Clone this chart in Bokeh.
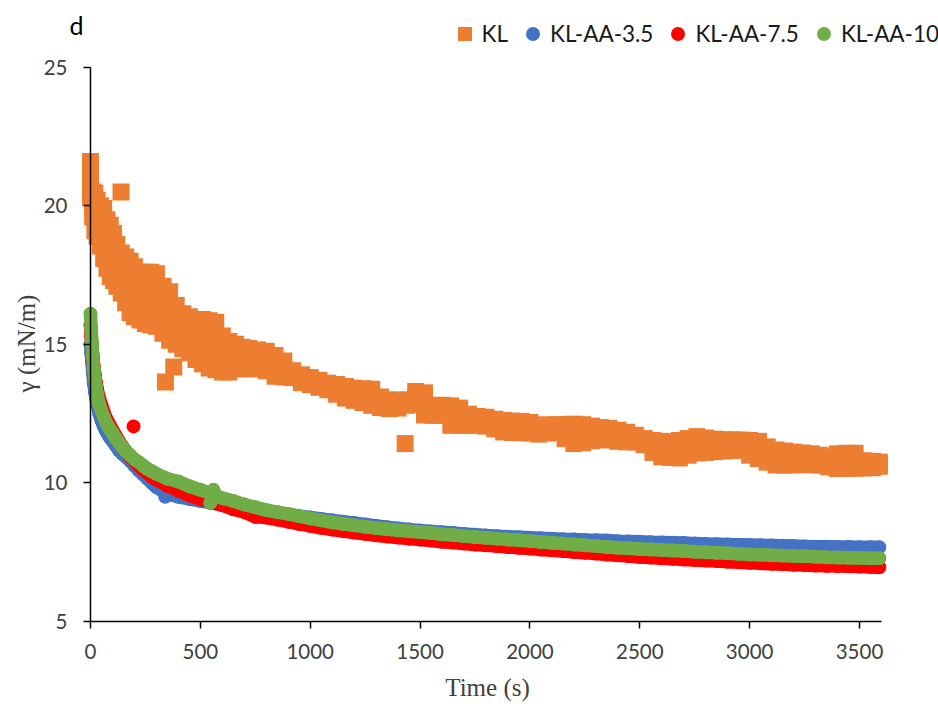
import math
from bokeh.plotting import figure
from bokeh.models import Range1d, FixedTicker, Legend, LegendItem, Label, ColumnDataSource
from bokeh.embed import file_html
from bokeh.resources import INLINE

# ---------------- data ----------------
x_ticks = [0, 500, 1000, 1500, 2000, 2500, 3000, 3500]
y_ticks = [5, 10, 15, 20, 25]
series_names = ["KL", "KL-AA-3.5", "KL-AA-7.5", "KL-AA-10"]

# KL (noisy band of squares): early part read at four levels across the band
kl_t_early = [0, 10, 20, 30, 45, 60, 75, 90, 105, 120, 140, 160, 180, 200, 225, 250,
              275, 300, 330, 360, 390, 420, 450, 480, 510, 540, 570, 600, 630, 660, 690]
kl_hi_early = [21.6, 20.5, 20.45, 20.2, 20.0, 19.9, 19.5, 19.3, 19.0, 18.6, 18.3, 18.15,
               18.0, 17.8, 17.6, 17.6, 17.6, 17.55, 17.1, 16.9, 16.4, 16.1, 16.0, 15.9,
               15.9, 15.85, 15.8, 15.3, 15.1, 15.0, 14.9]
kl_m1_early = [21.17, 20.2, 20.0, 19.77, 19.52, 19.3, 18.92, 18.68, 18.43, 18.1, 17.82,
               17.6, 17.38, 17.2, 17.03, 16.98, 16.97, 16.92, 16.53, 16.32, 15.93, 15.68,
               15.57, 15.42, 15.37, 15.28, 15.23, 14.87, 14.73, 14.71, 14.64]
kl_m2_early = [20.73, 19.9, 19.55, 19.33, 19.03, 18.7, 18.33, 18.07, 17.87, 17.6, 17.33,
               17.05, 16.77, 16.6, 16.45, 16.37, 16.33, 16.28, 15.97, 15.73, 15.47, 15.27,
               15.13, 14.93, 14.83, 14.72, 14.65, 14.43, 14.37, 14.41, 14.38]
kl_lo_early = [20.3, 19.6, 19.1, 18.9, 18.55, 18.1, 17.75, 17.45, 17.3, 17.1, 16.85, 16.5,
               16.15, 16.0, 15.88, 15.75, 15.7, 15.65, 15.4, 15.15, 15.0, 14.85, 14.7,
               14.45, 14.3, 14.15, 14.08, 14.0, 14.0, 14.12, 14.12]

# KL later part read at three levels across the band
kl_t_late = [720, 760, 800, 840, 880, 920, 960, 1000, 1040, 1080, 1120, 1160, 1200, 1240,
             1280, 1320, 1360, 1400, 1440, 1480, 1520, 1560, 1600, 1640, 1680, 1720, 1760,
             1800, 1840, 1880, 1920, 1960, 2000, 2040, 2080, 2120, 2160, 2200, 2240, 2280,
             2320, 2360, 2400, 2440, 2480, 2520, 2560, 2600, 2640, 2680, 2720, 2760, 2800,
             2840, 2880, 2920, 2960, 3000, 3040, 3080, 3120, 3160, 3200, 3240, 3280, 3320,
             3360, 3400, 3440, 3480, 3520, 3560, 3590]
kl_hi_late = [14.85, 14.8, 14.75, 14.6, 14.4, 14.05, 13.9, 13.8, 13.7, 13.6, 13.55, 13.48,
              13.42, 13.4, 13.38, 13.1, 13.0, 12.95, 13.0, 13.3, 13.25, 12.8, 12.8, 12.78,
              12.7, 12.48, 12.4, 12.37, 12.3, 12.25, 12.23, 12.22, 12.18, 12.09, 12.09,
              12.1, 12.11, 12.12, 12.1, 12.05, 12.0, 11.97, 11.9, 11.83, 11.72, 11.6, 11.53,
              11.5, 11.48, 11.53, 11.6, 11.67, 11.62, 11.58, 11.56, 11.55, 11.55, 11.53,
              11.5, 11.3, 11.19, 11.15, 11.11, 11.08, 11.05, 11.0, 10.93, 11.05, 11.07,
              11.07, 10.8, 10.78, 10.75]
kl_mid_late = [14.48, 14.46, 14.4, 14.22, 14.11, 13.92, 13.76, 13.68, 13.58, 13.48, 13.38,
               13.27, 13.2, 13.15, 13.09, 12.91, 12.84, 12.82, 12.9, 13.08, 12.85, 12.62,
               12.62, 12.43, 12.39, 12.28, 12.24, 12.21, 12.12, 12.04, 12.02, 12.01, 11.99,
               11.92, 11.94, 11.97, 11.85, 11.77, 11.77, 11.78, 11.79, 11.76, 11.7, 11.65,
               11.6, 11.49, 11.32, 11.22, 11.2, 11.21, 11.3, 11.37, 11.36, 11.35, 11.35,
               11.36, 11.36, 11.26, 11.19, 11.02, 10.92, 10.9, 10.88, 10.87, 10.85, 10.82,
               10.75, 10.78, 10.8, 10.8, 10.67, 10.66, 10.67]
kl_lo_late = [14.12, 14.12, 14.05, 13.85, 13.82, 13.8, 13.62, 13.55, 13.45, 13.36, 13.2,
              13.06, 12.98, 12.9, 12.8, 12.72, 12.68, 12.7, 12.8, 12.86, 12.45, 12.44, 12.44,
              12.08, 12.08, 12.08, 12.08, 12.05, 11.95, 11.84, 11.82, 11.81, 11.8, 11.76,
              11.8, 11.84, 11.6, 11.42, 11.45, 11.52, 11.58, 11.55, 11.5, 11.48, 11.48,
              11.38, 11.1, 10.94, 10.92, 10.9, 11.0, 11.08, 11.1, 11.13, 11.15, 11.17, 11.18,
              11.0, 10.88, 10.75, 10.65, 10.64, 10.65, 10.66, 10.66, 10.64, 10.58, 10.52,
              10.52, 10.53, 10.54, 10.55, 10.6]
# KL isolated points
kl_t_out = [139, 341, 379, 1432]
kl_g_out = [20.5, 13.64, 14.18, 11.42]

# KL-AA series (shared time axis)
t_aa = [0, 3, 6, 10, 15, 20, 25, 30, 40, 50, 60, 70, 80, 90, 100, 115, 130, 145, 160, 180,
        200, 220, 240, 260, 280, 300, 350, 400, 450, 500, 550, 600, 650, 700, 750, 800, 850,
        900, 950, 1000, 1050, 1100, 1150, 1200, 1250, 1300, 1350, 1400, 1450, 1500, 1550,
        1600, 1650, 1700, 1750, 1800, 1850, 1900, 1950, 2000, 2050, 2100, 2150, 2200, 2250,
        2300, 2350, 2400, 2450, 2500, 2550, 2600, 2650, 2700, 2750, 2800, 2850, 2900, 2950,
        3000, 3050, 3100, 3150, 3200, 3250, 3300, 3350, 3400, 3450, 3500, 3550, 3590]
g_aa35 = [15.0, 14.7, 14.4, 14.0, 13.6, 13.3, 13.05, 12.85, 12.5, 12.25, 12.05, 11.88,
          11.75, 11.62, 11.52, 11.35, 11.18, 11.05, 10.95, 10.8, 10.62, 10.45, 10.3, 10.15,
          10.0, 9.85, 9.6, 9.5, 9.42, 9.35, 9.28, 9.2, 9.12, 9.05, 9.0, 8.95, 8.9, 8.85, 8.8,
          8.75, 8.7, 8.65, 8.6, 8.55, 8.5, 8.45, 8.4, 8.36, 8.32, 8.28, 8.25, 8.22, 8.19,
          8.16, 8.13, 8.1, 8.08, 8.06, 8.04, 8.02, 8.0, 7.99, 7.97, 7.96, 7.94, 7.93, 7.92,
          7.9, 7.89, 7.88, 7.86, 7.85, 7.84, 7.83, 7.81, 7.8, 7.79, 7.78, 7.77, 7.76, 7.75,
          7.74, 7.73, 7.72, 7.71, 7.7, 7.7, 7.69, 7.69, 7.68, 7.68, 7.68]
g_aa75 = [15.7, 15.3, 14.95, 14.6, 14.2, 13.9, 13.6, 13.4, 13.05, 12.8, 12.55, 12.35, 12.2,
          12.05, 11.9, 11.7, 11.5, 11.32, 11.15, 10.95, 10.8, 10.62, 10.48, 10.35, 10.22,
          10.12, 9.9, 9.72, 9.55, 9.42, 9.3, 9.2, 9.05, 8.95, 8.78, 8.75, 8.68, 8.6, 8.52,
          8.45, 8.38, 8.32, 8.26, 8.21, 8.16, 8.11, 8.07, 8.03, 7.99, 7.96, 7.92, 7.88, 7.85,
          7.81, 7.78, 7.75, 7.72, 7.69, 7.66, 7.63, 7.6, 7.57, 7.54, 7.51, 7.48, 7.45, 7.42,
          7.39, 7.36, 7.33, 7.31, 7.28, 7.26, 7.24, 7.22, 7.2, 7.18, 7.16, 7.14, 7.12, 7.1,
          7.08, 7.07, 7.05, 7.04, 7.02, 7.01, 7.0, 6.99, 6.98, 6.97, 6.96]
g_aa10 = [16.1, 15.6, 15.1, 14.6, 14.1, 13.75, 13.45, 13.2, 12.85, 12.6, 12.4, 12.2, 12.05,
          11.92, 11.8, 11.62, 11.45, 11.3, 11.15, 11.0, 10.85, 10.75, 10.62, 10.5, 10.42,
          10.33, 10.15, 10.05, 9.88, 9.75, 9.62, 9.45, 9.35, 9.22, 9.12, 9.02, 8.95, 8.88,
          8.8, 8.72, 8.65, 8.58, 8.52, 8.47, 8.42, 8.37, 8.33, 8.29, 8.26, 8.23, 8.19, 8.15,
          8.12, 8.08, 8.05, 8.02, 7.99, 7.96, 7.93, 7.9, 7.87, 7.84, 7.81, 7.78, 7.75, 7.72,
          7.69, 7.66, 7.64, 7.62, 7.6, 7.58, 7.56, 7.54, 7.52, 7.5, 7.48, 7.46, 7.44, 7.42,
          7.41, 7.39, 7.38, 7.36, 7.35, 7.34, 7.32, 7.31, 7.3, 7.29, 7.28, 7.28]
# isolated points of the KL-AA series
aa35_t_out, aa35_g_out = [340], [9.5]
aa75_t_out, aa75_g_out = [196], [12.04]
aa10_t_out, aa10_g_out = [545, 560], [9.28, 9.75]

# ---------------- build sources ----------------
def pairs(ts, gs):
    return [(t, g) for t, g in zip(ts, gs)]

kl_pts = []
for lvl in (kl_hi_early, kl_m1_early, kl_m2_early, kl_lo_early):
    kl_pts += pairs(kl_t_early, lvl)
for lvl in (kl_hi_late, kl_mid_late, kl_lo_late):
    kl_pts += pairs(kl_t_late, lvl)
kl_pts += pairs(kl_t_out, kl_g_out)
kl_src = ColumnDataSource(dict(t=[a for a, _ in kl_pts], g=[b for _, b in kl_pts]))

ORANGE, BLUE, RED, GREEN = "#ED7D31", "#4472C4", "#FF0000", "#70AD47"

# the frame covers the whole canvas; axes are pinned at x=0 and y=5
W, H = 938, 706
p = figure(width=W, height=H, output_backend="svg", toolbar_location=None,
           x_range=Range1d(-409.62, 3859.5), y_range=Range1d(1.933, 27.407),
           min_border_left=0, min_border_right=0, min_border_top=0, min_border_bottom=0)
p.outline_line_color = None
p.xgrid.visible = False
p.ygrid.visible = False
p.background_fill_color = "white"
p.border_fill_color = "white"

for ax, ticks, bnds in ((p.xaxis[0], x_ticks, (0, 3600)), (p.yaxis[0], y_ticks, (5, 25))):
    ax.ticker = FixedTicker(ticks=ticks)
    ax.bounds = bnds
    ax.axis_line_color = "black"
    ax.axis_line_width = 1.5
    ax.major_tick_line_color = "black"
    ax.major_tick_line_width = 1.5
    ax.major_tick_in = 0
    ax.major_tick_out = 7
    ax.minor_tick_line_color = None
    ax.major_label_text_font = "Lato"
    ax.major_label_text_font_size = "20.5px"
    ax.major_label_text_color = "#404040"
p.xaxis[0].major_label_standoff = 16
p.yaxis[0].major_label_standoff = 16
p.yaxis[0].fixed_location = 0
p.xaxis[0].fixed_location = 5

r_kl = p.scatter("t", "g", source=kl_src, marker="square", size=17,
                 fill_color=ORANGE, line_color=None)

renderers = [r_kl]
for ys, ot, og, col in ((g_aa35, aa35_t_out, aa35_g_out, BLUE),
                        (g_aa75, aa75_t_out, aa75_g_out, RED),
                        (g_aa10, aa10_t_out, aa10_g_out, GREEN)):
    src = ColumnDataSource(dict(t=t_aa[:len(ys)], g=ys[:len(t_aa)]))
    p.line("t", "g", source=src, line_width=13.5, line_color=col,
           line_cap="round", line_join="round")
    r = p.scatter("t", "g", source=src, marker="circle", size=14,
                  fill_color=col, line_color=None)
    p.scatter(ot, og, marker="circle", size=14, fill_color=col, line_color=None)
    renderers.append(r)

legend = Legend(items=[LegendItem(label=n, renderers=[r]) for n, r in zip(series_names, renderers)],
                orientation="horizontal", location=(446.5, 655.5),
                glyph_width=35, glyph_height=35, label_standoff=0, spacing=7,
                padding=0, margin=0, border_line_color=None, background_fill_alpha=0,
                label_text_font="Lato", label_text_font_size="22.5px",
                label_text_color="#1a1a1a")
p.add_layout(legend)

p.add_layout(Label(x=26, y=363, x_units="screen", y_units="screen", text="γ (mN/m)",
                   angle=math.pi / 2, text_align="center", text_baseline="middle",
                   text_font="Liberation Serif", text_font_size="25px", text_color="#404040"))
p.add_layout(Label(x=487, y=19, x_units="screen", y_units="screen", text="Time (s)",
                   text_align="center", text_baseline="middle",
                   text_font="Liberation Serif", text_font_size="25px", text_color="#404040"))
p.add_layout(Label(x=69, y=682, x_units="screen", y_units="screen", text="d",
                   text_align="left", text_baseline="alphabetic",
                   text_font="Lato", text_font_size="25px", text_color="#000000"))

open("out.html", "w").write(file_html(p, INLINE))
